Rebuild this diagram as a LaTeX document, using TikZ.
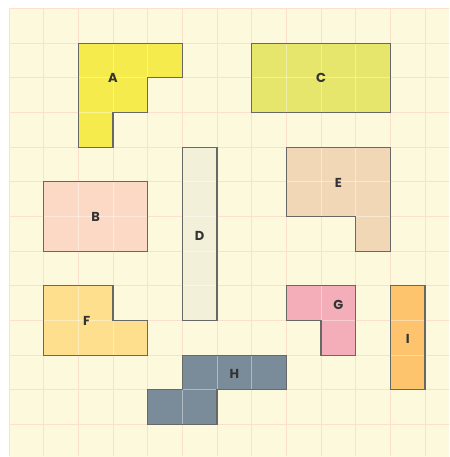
\documentclass[tikz,border=0pt]{standalone}
\usepackage{fontspec}
\setmainfont{Poppins}
\definecolor{bgc}{HTML}{FCF9DC}
\definecolor{gridc}{HTML}{FBE0CB}
\definecolor{edgec}{HTML}{686868}
\definecolor{txtc}{HTML}{333333}
\definecolor{cA}{HTML}{F5EB4C}
\definecolor{cB}{HTML}{FCD9C5}
\definecolor{cC}{HTML}{E6E56C}
\definecolor{cD}{HTML}{F2F0D8}
\definecolor{cE}{HTML}{F2D7B7}
\definecolor{cF}{HTML}{FDDF8D}
\definecolor{cG}{HTML}{F4AEBA}
\definecolor{cH}{HTML}{7A8B9A}
\definecolor{cI}{HTML}{FEC46D}
\tikzset{
  bggrid/.style={draw=gridc, line width=0.9pt},
  ingrid/.style={draw=white, opacity=0.4, line width=0.9pt},
  outline/.style={draw=edgec, line width=1.1pt, line join=miter},
  lbl/.style={text=txtc, font=\fontsize{13}{15}\selectfont\bfseries, inner sep=0pt},
}
\newcommand\gridlines[1]{%
  \foreach \k in {0,...,13}{\draw[#1] (\k,0) -- (\k,13); \draw[#1] (0,\k) -- (13,\k);}%
}
\newcommand\piece[2]{%
  \fill[#1] #2;
  \begin{scope}\clip #2; \gridlines{ingrid}\end{scope}
  \draw[outline] #2;
}
\begin{document}
\begin{tikzpicture}[x=1pt,y=-1pt]
\useasboundingbox (0,0) rectangle (449,457);
\fill[bgc] (9,8.5) rectangle (449,457);
\begin{scope}[shift={(9,8.5)}, x=34.67pt, y=-34.67pt]
  \begin{scope}
    \clip (0,0) rectangle (12.7,12.9);
    \gridlines{bggrid}
  \end{scope}
  % A
  \piece{cA}{(2,1)--(5,1)--(5,2)--(4,2)--(4,3)--(3,3)--(3,4)--(2,4)--cycle}
  % B
  \piece{cB}{(1,5)--(4,5)--(4,7)--(1,7)--cycle}
  % C
  \piece{cC}{(7,1)--(11,1)--(11,3)--(7,3)--cycle}
  % D
  \piece{cD}{(5,4)--(6,4)--(6,9)--(5,9)--cycle}
  % E
  \piece{cE}{(8,4)--(11,4)--(11,7)--(10,7)--(10,6)--(8,6)--cycle}
  % F
  \piece{cF}{(1,8)--(3,8)--(3,9)--(4,9)--(4,10)--(1,10)--cycle}
  % G
  \piece{cG}{(8,8)--(10,8)--(10,10)--(9,10)--(9,9)--(8,9)--cycle}
  % H
  \piece{cH}{(5,10)--(8,10)--(8,11)--(6,11)--(6,12)--(4,12)--(4,11)--(5,11)--cycle}
  % I
  \piece{cI}{(11,8)--(12,8)--(12,11)--(11,11)--cycle}
  \node[lbl] (lA) at (3,2) {A};
  \node[lbl] (lB) at (2.5,6) {B};
  \node[lbl] (lC) at (9,2) {C};
  \node[lbl] (lD) at (5.5,6.55) {D};
  \node[lbl] (lE) at (9.5,5.03) {E};
  \node[lbl] (lF) at (2.24,9) {F};
  \node[lbl] (lG) at (9.5,8.56) {G};
  \node[lbl] (lH) at (6.5,10.55) {H};
  \node[lbl] (lI) at (11.5,9.53) {I};
\end{scope}
\end{tikzpicture}
\end{document}
